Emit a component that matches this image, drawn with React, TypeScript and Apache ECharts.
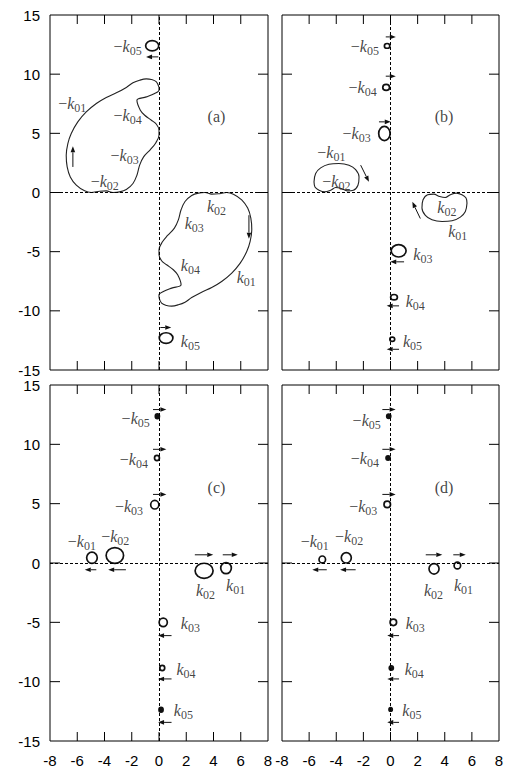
import React, { useEffect, useRef } from "react";
import * as echarts from "echarts";

// ---------------- data ----------------
// Panel (a): large closed trajectories
const A_UPPER: number[][] = [
  [0.0, 8.88], [-0.19, 9.35], [-0.56, 9.55], [-0.93, 9.6], [-1.42, 9.49], [-1.91, 9.27],
  [-2.4, 8.88], [-3.13, 8.42], [-3.87, 8.03], [-4.6, 7.52], [-5.34, 6.81], [-5.96, 5.97],
  [-6.44, 4.99], [-6.69, 4.14], [-6.81, 3.15], [-6.74, 2.16], [-6.51, 1.32], [-6.07, 0.62],
  [-5.46, 0.14], [-4.97, 0.0], [-4.36, 0.11], [-3.87, 0.14], [-3.38, 0.0], [-2.89, 0.05],
  [-2.4, 0.25], [-1.91, 0.76], [-1.62, 1.46], [-1.42, 2.31], [-1.13, 3.01], [-0.63, 3.63],
  [-0.24, 4.19], [0.0, 4.84], [0.0, 5.27], [-0.19, 5.77], [-0.56, 6.11], [-1.05, 6.53],
  [-1.37, 6.96], [-1.62, 7.8], [-0.93, 8.08], [-0.32, 8.37], [0.0, 8.65], [0.0, 8.88],
];
const A_LOWER: number[][] = [
  [0.0, -8.88], [0.19, -9.35], [0.56, -9.55], [0.93, -9.6], [1.42, -9.49], [1.91, -9.27],
  [2.4, -8.88], [3.13, -8.42], [3.87, -8.03], [4.6, -7.52], [5.34, -6.81], [5.96, -5.97],
  [6.44, -4.99], [6.69, -4.14], [6.81, -3.15], [6.74, -2.16], [6.51, -1.32], [6.07, -0.62],
  [5.46, -0.14], [4.97, 0.0], [4.36, -0.11], [3.87, -0.14], [3.38, 0.0], [2.89, -0.05],
  [2.4, -0.25], [1.91, -0.76], [1.62, -1.46], [1.42, -2.31], [1.13, -3.01], [0.63, -3.63],
  [0.24, -4.19], [0.0, -4.84], [0.0, -5.27], [0.19, -5.77], [0.56, -6.11], [1.05, -6.53],
  [1.37, -6.96], [1.62, -7.8], [0.93, -8.08], [0.32, -8.37], [0.0, -8.65], [0.0, -8.88],
];
// Panel (b): bean-shaped trajectories
const B_UPPER: number[][] = [
  [-5.64, 0.9], [-5.52, 1.61], [-5.15, 2.08], [-4.54, 2.39], [-3.8, 2.45], [-3.06, 2.31],
  [-2.57, 1.94], [-2.32, 1.32], [-2.4, 0.62], [-2.74, 0.19], [-3.19, 0.14], [-3.63, 0.34],
  [-4.04, 0.42], [-4.41, 0.19], [-4.85, 0.05], [-5.27, 0.19], [-5.57, 0.47], [-5.64, 0.9],
];
const B_LOWER: number[][] = [
  [5.64, -0.9], [5.52, -1.61], [5.15, -2.08], [4.54, -2.39], [3.8, -2.45], [3.06, -2.31],
  [2.57, -1.94], [2.32, -1.32], [2.4, -0.62], [2.74, -0.19], [3.19, -0.14], [3.63, -0.34],
  [4.04, -0.42], [4.41, -0.19], [4.85, -0.05], [5.27, -0.19], [5.57, -0.47], [5.64, -0.9],
];

// small loops: [cx, cy, rx, ry, filled]
const LOOPS_A: number[][] = [[-0.5, 12.4, 0.48, 0.44, 0], [0.52, -12.3, 0.5, 0.45, 0]];
const LOOPS_B: number[][] = [
  [-0.25, 12.39, 0.2, 0.2, 0], [-0.32, 8.88, 0.25, 0.25, 0], [-0.45, 4.99, 0.42, 0.6, 0],
  [0.6, -4.93, 0.55, 0.52, 0], [0.26, -8.85, 0.25, 0.23, 0], [0.13, -12.4, 0.18, 0.18, 0],
];
const LOOPS_C: number[][] = [
  [-0.12, 12.36, 0.15, 0.2, 1], [-0.15, 8.85, 0.18, 0.22, 0], [-0.31, 4.91, 0.3, 0.36, 0],
  [-4.92, 0.44, 0.39, 0.47, 0], [-3.24, 0.63, 0.64, 0.66, 0], [3.31, -0.66, 0.66, 0.64, 0],
  [4.92, -0.43, 0.39, 0.47, 0], [0.31, -5.0, 0.3, 0.36, 0], [0.24, -8.85, 0.18, 0.22, 0],
  [0.15, -12.36, 0.15, 0.2, 1],
];
const LOOPS_D: number[][] = [
  [-0.13, 12.36, 0.15, 0.18, 1], [-0.18, 8.85, 0.15, 0.18, 1], [-0.24, 4.94, 0.24, 0.27, 0],
  [-5.03, 0.3, 0.24, 0.29, 0], [-3.26, 0.44, 0.37, 0.44, 0], [3.21, -0.49, 0.37, 0.44, 0],
  [4.93, -0.21, 0.24, 0.29, 0], [0.21, -5.0, 0.24, 0.27, 0], [0.06, -8.85, 0.15, 0.18, 1],
  [0.01, -12.34, 0.12, 0.15, 1],
];

// arrows: [x1, y1, x2, y2] (head at x2,y2)
const ARROWS_A: number[][] = [
  [-0.05, 11.46, -0.95, 11.46], [-6.32, 2.16, -6.32, 3.9],
  [0.1, -11.41, 0.9, -11.41], [6.6, -1.92, 6.6, -3.9],
];
const ARROWS_B: number[][] = [
  [-0.35, 13.15, 0.39, 13.15], [-0.35, 9.83, 0.39, 9.83], [-0.85, 5.97, 0.02, 5.97],
  [-2.2, 2.31, -1.59, 0.9], [2.2, -2.2, 1.61, -0.79],
  [1.0, -5.86, -0.02, -5.86], [0.63, -9.58, -0.28, -9.58], [0.63, -13.25, -0.28, -13.25],
];
const ARROWS_C: number[][] = [
  [-0.44, 12.93, 0.54, 12.93], [-0.44, 9.58, 0.54, 9.58], [-0.44, 5.78, 0.54, 5.78],
  [-4.6, -0.57, -5.45, -0.57], [-2.43, -0.57, -3.73, -0.57],
  [2.63, 0.69, 3.98, 0.69], [4.68, 0.69, 5.78, 0.69],
  [0.92, -6.12, -0.07, -6.12], [0.92, -9.77, -0.07, -9.77], [0.92, -13.43, -0.07, -13.43],
];
const ARROWS_D: number[][] = [
  [-0.6, 12.93, 0.38, 12.93], [-0.6, 9.58, 0.38, 9.58], [-0.6, 5.78, 0.38, 5.78],
  [-4.7, -0.57, -5.77, -0.57], [-2.57, -0.57, -3.72, -0.57],
  [2.6, 0.69, 3.82, 0.69], [4.63, 0.69, 5.55, 0.69],
  [0.63, -6.12, -0.24, -6.12], [0.63, -9.77, -0.24, -9.77], [0.63, -13.43, -0.24, -13.43],
];

// labels: [text, x, y, align]
type Lbl = [string, number, number, string];
const LABELS_A: Lbl[] = [
  ["-k05", -1.27, 12.37, "r"], ["-k01", -7.4, 7.52, "l"], ["-k04", -1.27, 6.53, "r"],
  ["-k03", -1.49, 3.15, "r"], ["-k02", -2.95, 0.95, "r"], ["k02", 3.52, -1.16, "l"],
  ["k03", 1.89, -2.62, "l"], ["k04", 1.6, -6.15, "l"], ["k01", 5.7, -7.19, "l"],
  ["k05", 1.6, -12.57, "l"],
];
const LABELS_B: Lbl[] = [
  ["-k05", -0.85, 12.31, "r"], ["-k04", -1.02, 8.88, "r"], ["-k03", -1.46, 4.99, "r"],
  ["-k01", -5.4, 3.35, "l"], ["-k02", -5.03, 0.9, "l"], ["k02", 3.45, -1.27, "l"],
  ["k01", 4.26, -3.33, "l"], ["k03", 1.68, -5.22, "l"], ["k04", 1.12, -9.25, "l"],
  ["k05", 0.92, -12.63, "l"],
];
const LABELS_C: Lbl[] = [
  ["-k05", -0.68, 12.17, "r"], ["-k04", -0.81, 8.71, "r"], ["-k03", -1.17, 4.77, "r"],
  ["-k01", -6.69, 1.84, "l"], ["-k02", -4.24, 2.26, "l"], ["k02", 2.71, -2.32, "l"],
  ["k01", 4.92, -1.9, "l"], ["k03", 1.6, -5.08, "l"], ["k04", 1.28, -9.01, "l"],
  ["k05", 1.09, -12.45, "l"],
];
const LABELS_D: Lbl[] = [
  ["-k05", -0.72, 11.97, "r"], ["-k04", -0.85, 8.77, "r"], ["-k03", -0.97, 4.77, "r"],
  ["-k01", -6.62, 1.84, "l"], ["-k02", -4.09, 2.26, "l"], ["k02", 2.47, -2.32, "l"],
  ["k01", 4.68, -1.9, "l"], ["k03", 1.12, -5.1, "l"], ["k04", 1.05, -9.0, "l"],
  ["k05", 0.87, -12.4, "l"],
];
const PANEL_TAGS: [string, number, number][] = [
  ["(a)", 4.22, 6.45], ["(b)", 3.95, 6.45], ["(c)", 4.22, 6.4], ["(d)", 3.95, 6.4],
];

const X_MIN = -8, X_MAX = 8, X_STEP = 2;
const Y_MIN = -15, Y_MAX = 15, Y_STEP = 5;
const X_TICKS = [-6, -4, -2, 0, 2, 4, 6];
const Y_TICKS = [-10, -5, 0, 5, 10];

// ---------------- chart ----------------
const INK = "#111";
const SERIF = "'Liberation Serif', 'DejaVu Serif', serif";
const SANS = "'Liberation Sans', Arial, sans-serif";
const CLEAR = "rgba(0,0,0,0)";
const TICK_LEN = 9;

const GRIDS = [
  { left: 50, top: 15, width: 218, height: 355 },
  { left: 282, top: 15, width: 217, height: 355 },
  { left: 50, top: 385, width: 218, height: 356 },
  { left: 282, top: 385, width: 217, height: 356 },
];

function xTickRender(params: any, api: any) {
  const c = api.coord([api.value(0), 0]);
  const cs = params.coordSys;
  const st = { stroke: "#000", lineWidth: 1 };
  return {
    type: "group",
    children: [
      { type: "line", shape: { x1: c[0], y1: cs.y, x2: c[0], y2: cs.y + TICK_LEN }, style: st },
      { type: "line", shape: { x1: c[0], y1: cs.y + cs.height, x2: c[0], y2: cs.y + cs.height - TICK_LEN }, style: st },
    ],
  };
}
function yTickRender(params: any, api: any) {
  const c = api.coord([0, api.value(1)]);
  const cs = params.coordSys;
  const st = { stroke: "#000", lineWidth: 1 };
  return {
    type: "group",
    children: [
      { type: "line", shape: { x1: cs.x, y1: c[1], x2: cs.x + TICK_LEN + 1, y2: c[1] }, style: st },
      { type: "line", shape: { x1: cs.x + cs.width, y1: c[1], x2: cs.x + cs.width - TICK_LEN - 1, y2: c[1] }, style: st },
    ],
  };
}

function loopRender(params: any, api: any) {
  const c = api.coord([api.value(0), api.value(1)]);
  const s = api.size([api.value(2), api.value(3)]);
  const filled = api.value(4) === 1;
  return {
    type: "ellipse",
    shape: { cx: c[0], cy: c[1], rx: Math.max(s[0], 1.5), ry: Math.max(s[1], 1.5) },
    style: { fill: filled ? INK : "none", stroke: INK, lineWidth: 1.7 },
  };
}

function arrowRender(params: any, api: any) {
  const p1 = api.coord([api.value(0), api.value(1)]);
  const p2 = api.coord([api.value(2), api.value(3)]);
  const dx = p2[0] - p1[0];
  const dy = p2[1] - p1[1];
  const len = Math.hypot(dx, dy) || 1;
  const ux = dx / len, uy = dy / len;
  const L = 6, W = 2.3;
  const bx = p2[0] - ux * L, by = p2[1] - uy * L;
  const nx = -uy, ny = ux;
  return {
    type: "group",
    children: [
      { type: "line", shape: { x1: p1[0], y1: p1[1], x2: bx, y2: by }, style: { stroke: INK, lineWidth: 1 } },
      {
        type: "polygon",
        shape: { points: [[p2[0], p2[1]], [bx + nx * W, by + ny * W], [bx - nx * W, by - ny * W]] },
        style: { fill: INK },
      },
    ],
  };
}

function labelText(t: string) {
  const neg = t.startsWith("-");
  const sub = t.replace("-", "").slice(1);
  return (neg ? "{m|\u2212}" : "") + "{k|k}{s|" + sub + "}";
}

const RICH = {
  m: { fontFamily: SERIF, fontSize: 16, color: INK },
  k: { fontFamily: SERIF, fontStyle: "italic", fontSize: 16, color: INK },
  s: { fontFamily: SERIF, fontSize: 12, color: INK, padding: [9, 0, 0, 0] },
};

export default function App() {
  const ref = useRef<HTMLDivElement>(null);
  useEffect(() => {
    if (!ref.current) return;
    const chart = echarts.init(ref.current, undefined, { renderer: "svg" });
    const curves = [[A_UPPER, A_LOWER], [B_UPPER, B_LOWER], [], []];
    const loops = [LOOPS_A, LOOPS_B, LOOPS_C, LOOPS_D];
    const arrows = [ARROWS_A, ARROWS_B, ARROWS_C, ARROWS_D];
    const labels = [LABELS_A, LABELS_B, LABELS_C, LABELS_D];

    const xAxis: any[] = [];
    const yAxis: any[] = [];
    const series: any[] = [];
    GRIDS.forEach((_, g) => {
      const line = { show: false, onZero: false };
      xAxis.push({
        gridIndex: g, type: "value", min: X_MIN, max: X_MAX, interval: X_STEP, position: "bottom",
        axisLine: line, splitLine: { show: false }, axisTick: { show: false },
        axisLabel: { show: g >= 2, margin: 12, fontSize: 15, fontFamily: SANS, color: "#000" },
      });
      yAxis.push({
        gridIndex: g, type: "value", min: Y_MIN, max: Y_MAX, interval: Y_STEP, position: "left",
        axisLine: line, splitLine: { show: false }, axisTick: { show: false },
        axisLabel: { show: g % 2 === 0, margin: 10, fontSize: 15, fontFamily: SANS, color: "#000" },
      });

      const xi = g, yi = g;
      // zero lines
      series.push({
        type: "line", xAxisIndex: xi, yAxisIndex: yi, data: [[0, 0]], symbol: "none",
        lineStyle: { opacity: 0 }, silent: true, z: 1,
        markLine: {
          silent: true, symbol: ["none", "none"], label: { show: false },
          lineStyle: { type: [3, 2], color: "#000", width: 1 },
          data: [{ xAxis: 0 }, { yAxis: 0 }],
        },
      });
      // frame ticks (at the axis tick values, mirrored on both sides)
      series.push({
        type: "custom", xAxisIndex: xi, yAxisIndex: yi, silent: true, z: 2,
        data: X_TICKS.map((v) => [v, 0]), encode: { x: 0, y: 1 }, renderItem: xTickRender,
      });
      series.push({
        type: "custom", xAxisIndex: xi, yAxisIndex: yi, silent: true, z: 2,
        data: Y_TICKS.map((v) => [0, v]), encode: { x: 0, y: 1 }, renderItem: yTickRender,
      });
      curves[g].forEach((c: number[][]) => {
        series.push({
          type: "line", xAxisIndex: xi, yAxisIndex: yi, data: c, smooth: 0.35,
          symbol: "none", lineStyle: { color: "#222", width: 1.1 }, z: 3,
        });
      });
      series.push({
        type: "custom", xAxisIndex: xi, yAxisIndex: yi, data: loops[g],
        encode: { x: 0, y: 1 }, renderItem: loopRender, z: 4,
      });
      series.push({
        type: "custom", xAxisIndex: xi, yAxisIndex: yi, data: arrows[g],
        encode: { x: [0, 2], y: [1, 3] }, renderItem: arrowRender, z: 4,
      });
      series.push({
        type: "scatter", xAxisIndex: xi, yAxisIndex: yi, symbolSize: 1,
        itemStyle: { color: CLEAR }, z: 5,
        data: labels[g].map((l) => ({
          value: [l[1], l[2]],
          label: {
            show: true, position: "inside", align: l[3] === "r" ? "right" : "left",
            verticalAlign: "middle", formatter: labelText(l[0]), rich: RICH,
          },
        })),
      });
      const tag = PANEL_TAGS[g];
      series.push({
        type: "scatter", xAxisIndex: xi, yAxisIndex: yi, symbolSize: 1,
        itemStyle: { color: CLEAR }, z: 5,
        data: [{
          value: [tag[1], tag[2]],
          label: {
            show: true, position: "inside", align: "center", verticalAlign: "middle",
            formatter: tag[0], fontFamily: SERIF, fontSize: 16, color: INK,
          },
        }],
      });
    });

    chart.setOption({
      animation: false,
      backgroundColor: "#fff",
      grid: GRIDS.map((g) => ({ ...g, show: true, borderColor: "#000", borderWidth: 1, backgroundColor: "transparent" })),
      xAxis,
      yAxis,
      series,
    });
    return () => chart.dispose();
  }, []);
  return <div ref={ref} style={{ position: "absolute", left: 0, top: 0, width: 511, height: 772 }} />;
}
